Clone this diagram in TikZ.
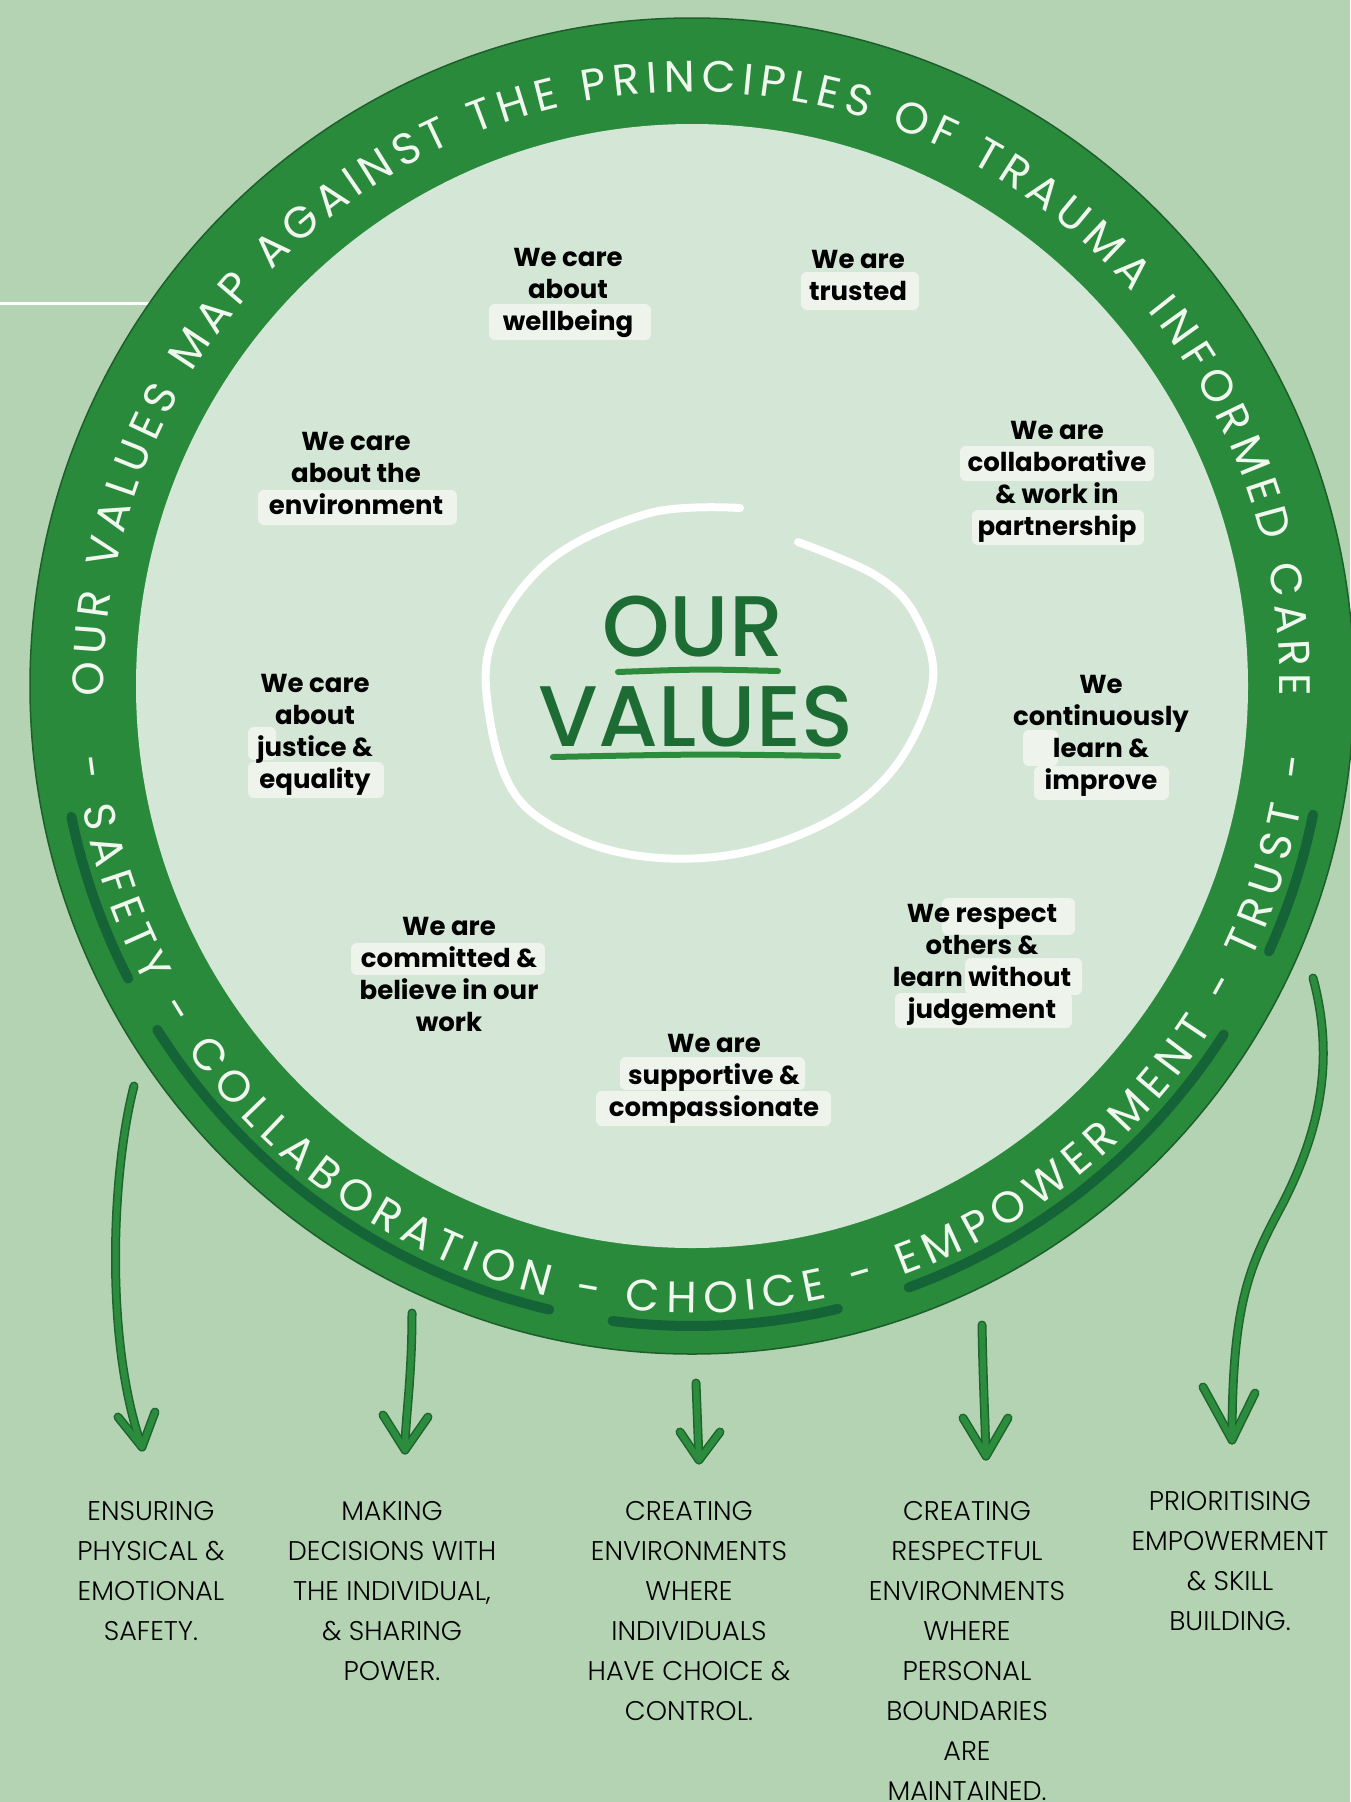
\documentclass[tikz,border=0pt]{standalone}
\usepackage{fontspec}
\usetikzlibrary{decorations.text}
\newfontfamily\pop{Poppins}
\IfFontExistsTF{Poppins Light}{\newfontfamily\popl{Poppins Light}}{\newfontfamily\popl{Poppins}}
\IfFontExistsTF{Poppins Medium}{\newfontfamily\popm{Poppins Medium}}{\newfontfamily\popm{Poppins}}
\definecolor{bgc}{RGB}{180,211,178}
\definecolor{innerc}{RGB}{212,230,213}
\definecolor{bandc}{RGB}{42,138,60}
\definecolor{bandedge}{RGB}{28,95,42}
\definecolor{ulc}{RGB}{20,100,55}
\definecolor{ovc}{RGB}{28,108,52}
\definecolor{ovline}{RGB}{45,140,60}
\definecolor{hlc}{RGB}{238,244,236}
\definecolor{bandtext}{RGB}{240,247,238}
\definecolor{arrc}{RGB}{44,140,62}
\definecolor{arredge}{RGB}{30,100,45}
\begin{document}
\begin{tikzpicture}[x=1pt,y=1pt,
  val/.style={font=\pop\bfseries\fontsize{26}{32}\selectfont, align=center, inner sep=0pt, text=black},
  hlbox/.style={fill=hlc, rounded corners=6pt},
  ul/.style={draw=ulc, line width=10, line cap=round},
  arrout/.style={draw=arredge, line width=9, line cap=round, line join=round},
  arrin/.style={draw=arrc, line width=6, line cap=round, line join=round},
  btext/.style={font=\popl\fontsize{27}{40}\selectfont, align=center, anchor=north, inner sep=0pt, text=black},
  ovtext/.style={font=\popm\fontsize{86}{90}\selectfont, text=ovc, inner sep=0pt}]
\useasboundingbox (0,0) rectangle (1350,-1802);
\fill[bgc] (0,0) rectangle (1350,-1802);
\coordinate (C) at (692,-686);
\coordinate (wl1) at (0,-303);
\coordinate (wl2) at (150,-303);
\draw[white, line width=3] (wl1) -- (wl2);
% band
\fill[bandc] (C) ellipse [x radius=662, y radius=668];
\draw[bandedge, line width=1.5] (C) ellipse [x radius=662, y radius=668];
\fill[innerc] (C) ellipse [x radius=556, y radius=562];
% underlines in band
\draw[ul] (C) ++(191.8:634 and 640) arc[start angle=191.8, end angle=207.2, x radius=634, y radius=640];
\draw[ul] (C) ++(212.5:634 and 640) arc[start angle=212.5, end angle=257, x radius=634, y radius=640];
\draw[ul] (C) ++(262.8:634 and 640) arc[start angle=262.8, end angle=283.3, x radius=634, y radius=640];
\draw[ul] (C) ++(290:634 and 640) arc[start angle=290, end angle=327, x radius=634, y radius=640];
\draw[ul] (C) ++(335.5:634 and 640) arc[start angle=335.5, end angle=348.4, x radius=634, y radius=640];
% band texts
\path[decorate, decoration={text along path, text align={fit to path}, text color=bandtext,
  text={|\pop\fontsize{44}{48}\selectfont|OUR VALUES MAP AGAINST THE PRINCIPLES OF TRAUMA INFORMED CARE}}]
  (C) ++(181:588 and 594) arc[start angle=181, end angle=-1, x radius=588, y radius=594];
\path[decorate, decoration={text along path, text align={fit to path}, text color=bandtext,
  text={|\pop\fontsize{44}{48}\selectfont|- SAFETY - COLLABORATION - CHOICE - EMPOWERMENT - TRUST -}}]
  (C) ++(186.5:621 and 627) arc[start angle=186.5, end angle=353.5, x radius=621, y radius=627];
% centre title
\draw[white, line width=8, line cap=round] plot[smooth, tension=0.6] coordinates {(740,-508) (650,-513) (550,-560) (492,-640) (490,-720) (517,-797) (580,-840) (660,-858) (750,-851) (840,-815) (900,-760) (933,-680) (915,-615) (875,-575) (798,-542)};
\node[ovtext] (our) at (693,-627) {OUR};
\node[ovtext] (values) at (696,-717) {VALUES};
\draw[ovline, line width=6, line cap=round] (618,-672) .. controls (700,-669) .. (778,-671);
\draw[ovline, line width=6, line cap=round] (553,-757) .. controls (700,-754) .. (838,-756);
% highlight boxes
\fill[hlbox] (489,-304) rectangle (651,-340);
\fill[hlbox] (801,-272) rectangle (919,-310);
\fill[hlbox] (258,-490) rectangle (457,-525);
\fill[hlbox] (960,-446) rectangle (1154,-481);
\fill[hlbox] (972,-510) rectangle (1144,-545);
\fill[hlbox] (248,-727) rectangle (276,-760);
\fill[hlbox] (248,-762) rectangle (384,-798);
\fill[hlbox] (1023,-730) rectangle (1058,-766);
\fill[hlbox] (1034,-766) rectangle (1169,-800);
\fill[hlbox] (351,-943) rectangle (545,-975);
\fill[hlbox] (942,-898) rectangle (1075,-935);
\fill[hlbox] (965,-958) rectangle (1082,-995);
\fill[hlbox] (895,-993) rectangle (1072,-1028);
\fill[hlbox] (620,-1057) rectangle (805,-1090);
\fill[hlbox] (596,-1091) rectangle (831,-1126);
% value labels
\node[val] (v1) at (568,-293) {We care\\about\\wellbeing};
\node[val] (v2) at (858,-275) {We are\\trusted};
\node[val] (v3) at (356,-473) {We care\\about the\\environment};
\node[val] (v4) at (1057,-482) {We are\\collaborative\\\& work in\\partnership};
\node[val] (v5) at (315,-735) {We care\\about\\justice \&\\equality};
\node[val] (v6) at (1101,-736) {We\\continuously\\learn \&\\improve};
\node[val] (v7) at (449,-974) {We are\\committed \&\\believe in our\\work};
\node[val] (v8) at (982,-965) {We respect\\others \&\\learn without\\judgement};
\node[val] (v9) at (714,-1079) {We are\\supportive \&\\compassionate};
% bottom texts
\node[btext] (t1) at (151,-1501) {ENSURING\\PHYSICAL \&\\EMOTIONAL\\SAFETY.};
\node[btext] (t2) at (392,-1501) {MAKING\\DECISIONS WITH\\THE INDIVIDUAL,\\\& SHARING\\POWER.};
\node[btext] (t3) at (689,-1501) {CREATING\\ENVIRONMENTS\\WHERE\\INDIVIDUALS\\HAVE CHOICE \&\\CONTROL.};
\node[btext] (t4) at (967,-1501) {CREATING\\RESPECTFUL\\ENVIRONMENTS\\WHERE\\PERSONAL\\BOUNDARIES\\ARE\\MAINTAINED.};
\node[btext] (t5) at (1230,-1491) {PRIORITISING\\EMPOWERMENT\\\& SKILL\\BUILDING.};
% arrows
\coordinate (a1s) at (134,-1086); \coordinate (a1t) at (142,-1447);
\coordinate (a2s) at (412,-1313); \coordinate (a2t) at (405,-1450);
\coordinate (a3s) at (696,-1383); \coordinate (a3t) at (699,-1460);
\coordinate (a4s) at (982,-1325); \coordinate (a4t) at (986,-1456);
\coordinate (a5s) at (1313,-978); \coordinate (a5t) at (1232,-1440);
\foreach \st in {arrout,arrin}{
  \draw[\st] (a1s) .. controls (112,-1170) and (104,-1340) .. (a1t);
  \draw[\st] (118,-1417) -- (a1t) -- (155,-1412);
  \draw[\st] (a2s) .. controls (412,-1380) and (405,-1420) .. (a2t);
  \draw[\st] (383,-1415) -- (a2t) -- (428,-1417);
  \draw[\st] (a3s) -- (a3t);
  \draw[\st] (680,-1432) -- (a3t) -- (720,-1432);
  \draw[\st] (a4s) .. controls (983,-1380) and (985,-1420) .. (a4t);
  \draw[\st] (963,-1418) -- (a4t) -- (1008,-1418);
  \draw[\st] (a5s) .. controls (1335,-1060) and (1320,-1130) .. (1283,-1203) .. controls (1250,-1265) and (1232,-1300) .. (a5t);
  \draw[\st] (1203,-1387) -- (a5t) -- (1255,-1393);
}
\end{tikzpicture}
\end{document}
